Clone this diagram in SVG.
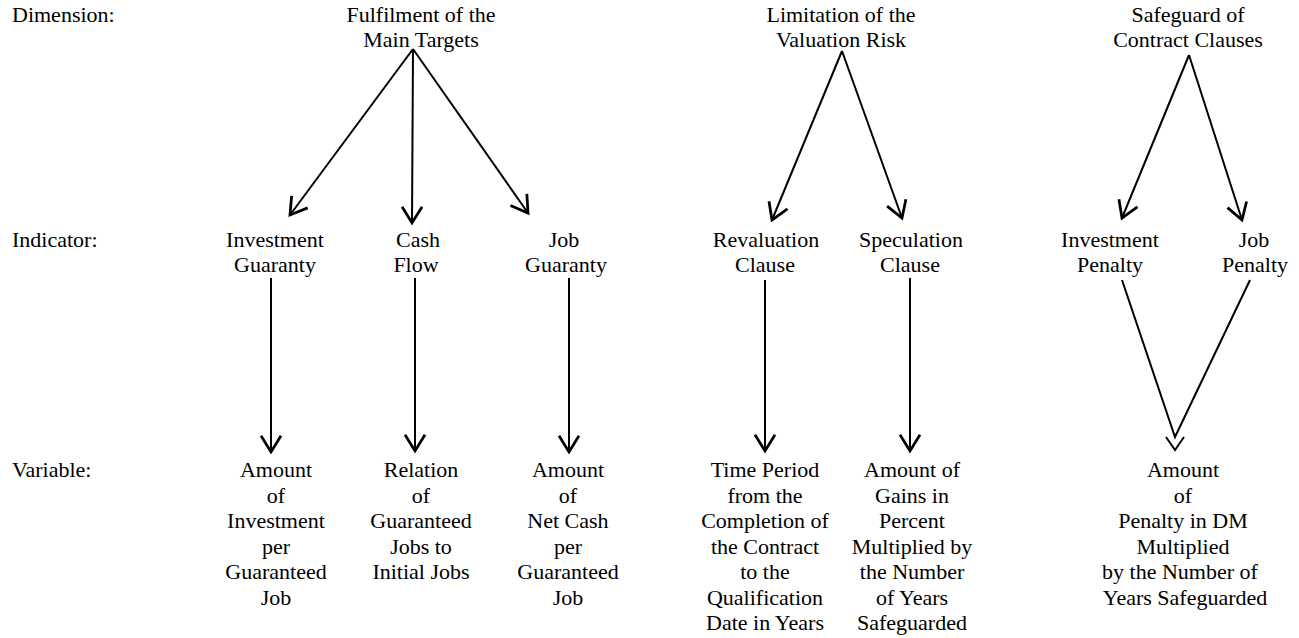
<svg xmlns="http://www.w3.org/2000/svg" width="1299" height="638" viewBox="0 0 1299 638">
<defs>
<style>
text{font-family:"Liberation Serif","Times New Roman",serif;font-size:22px;fill:#000}
.c{text-anchor:middle}
.ln{stroke:#000;stroke-width:2;fill:none}
.hd{stroke:#000;stroke-width:2;fill:none;stroke-linejoin:miter}
</style>
<marker id="ah" markerUnits="userSpaceOnUse" markerWidth="30" markerHeight="30" viewBox="-16 -12 20 24" refX="0" refY="0" orient="auto">
<path d="M-13,-8 L0,0 L-13,8" stroke="#000" stroke-width="2.2" fill="none"/>
</marker>
</defs>
<rect width="1299" height="638" fill="#fff"/>

<g id="row-labels">
<text x="12" y="22">Dimension:</text>
<text x="12" y="247">Indicator:</text>
<text x="12" y="477">Variable:</text>
</g>

<g id="dim-fulfilment"><text class="c" x="421" y="22"><tspan x="421">Fulfilment of the</tspan><tspan x="421" dy="25">Main Targets</tspan></text></g>
<g id="dim-limitation"><text class="c" x="841" y="22"><tspan x="841">Limitation of the</tspan><tspan x="841" dy="25">Valuation Risk</tspan></text></g>
<g id="dim-safeguard"><text class="c" x="1188" y="22"><tspan x="1188">Safeguard of</tspan><tspan x="1188" dy="25">Contract Clauses</tspan></text></g>

<g id="ind-investment-guaranty"><text class="c" y="247"><tspan x="275">Investment</tspan><tspan x="275" dy="25">Guaranty</tspan></text></g>
<g id="ind-cash-flow"><text class="c" y="247"><tspan x="418">Cash</tspan><tspan x="416" dy="25">Flow</tspan></text></g>
<g id="ind-job-guaranty"><text class="c" y="247"><tspan x="564">Job</tspan><tspan x="566" dy="25">Guaranty</tspan></text></g>
<g id="ind-revaluation"><text class="c" y="247"><tspan x="766">Revaluation</tspan><tspan x="765" dy="25">Clause</tspan></text></g>
<g id="ind-speculation"><text class="c" y="247"><tspan x="911">Speculation</tspan><tspan x="910" dy="25">Clause</tspan></text></g>
<g id="ind-investment-penalty"><text class="c" y="247"><tspan x="1110">Investment</tspan><tspan x="1110" dy="25">Penalty</tspan></text></g>
<g id="ind-job-penalty"><text class="c" y="247"><tspan x="1254">Job</tspan><tspan x="1255" dy="25">Penalty</tspan></text></g>

<g id="var-investment"><text class="c" y="477"><tspan x="276">Amount</tspan><tspan x="276" dy="25.5">of</tspan><tspan x="276" dy="25.5">Investment</tspan><tspan x="276" dy="25.5">per</tspan><tspan x="276" dy="25.5">Guaranteed</tspan><tspan x="276" dy="25.5">Job</tspan></text></g>
<g id="var-relation"><text class="c" y="477"><tspan x="421">Relation</tspan><tspan x="421" dy="25.5">of</tspan><tspan x="421" dy="25.5">Guaranteed</tspan><tspan x="421" dy="25.5">Jobs to</tspan><tspan x="421" dy="25.5">Initial Jobs</tspan></text></g>
<g id="var-netcash"><text class="c" y="477"><tspan x="568">Amount</tspan><tspan x="568" dy="25.5">of</tspan><tspan x="568" dy="25.5">Net Cash</tspan><tspan x="568" dy="25.5">per</tspan><tspan x="568" dy="25.5">Guaranteed</tspan><tspan x="568" dy="25.5">Job</tspan></text></g>
<g id="var-timeperiod"><text class="c" y="477"><tspan x="765">Time Period</tspan><tspan x="765" dy="25.5">from the</tspan><tspan x="765" dy="25.5">Completion of</tspan><tspan x="765" dy="25.5">the Contract</tspan><tspan x="765" dy="25.5">to the</tspan><tspan x="765" dy="25.5">Qualification</tspan><tspan x="765" dy="25.5">Date in Years</tspan></text></g>
<g id="var-gains"><text class="c" y="477"><tspan x="912">Amount of</tspan><tspan x="912" dy="25.5">Gains in</tspan><tspan x="912" dy="25.5">Percent</tspan><tspan x="912" dy="25.5">Multiplied by</tspan><tspan x="912" dy="25.5">the Number</tspan><tspan x="912" dy="25.5">of Years</tspan><tspan x="912" dy="25.5">Safeguarded</tspan></text></g>
<g id="var-penalty"><text class="c" y="477"><tspan x="1183">Amount</tspan><tspan x="1183" dy="25.5">of</tspan><tspan x="1183" dy="25.5">Penalty in DM</tspan><tspan x="1183" dy="25.5">Multiplied</tspan><tspan x="1180" dy="25.5">by the Number of</tspan><tspan x="1185" dy="25.5">Years Safeguarded</tspan></text></g>

<g id="connectors">
<line class="ln" x1="413" y1="49" x2="290" y2="215" marker-end="url(#ah)"/>
<line class="ln" x1="413" y1="49" x2="412" y2="223" marker-end="url(#ah)"/>
<line class="ln" x1="413" y1="49" x2="528" y2="213" marker-end="url(#ah)"/>
<line class="ln" x1="842" y1="51" x2="772" y2="220" marker-end="url(#ah)"/>
<line class="ln" x1="842" y1="51" x2="902" y2="218" marker-end="url(#ah)"/>
<line class="ln" x1="1189" y1="55" x2="1122" y2="218" marker-end="url(#ah)"/>
<line class="ln" x1="1189" y1="55" x2="1242" y2="220" marker-end="url(#ah)"/>
<line class="ln" x1="271" y1="278" x2="271" y2="452" marker-end="url(#ah)"/>
<line class="ln" x1="415" y1="278" x2="415" y2="451" marker-end="url(#ah)"/>
<line class="ln" x1="569" y1="278" x2="569" y2="452" marker-end="url(#ah)"/>
<line class="ln" x1="765" y1="280" x2="765" y2="451" marker-end="url(#ah)"/>
<line class="ln" x1="910" y1="278" x2="910" y2="451" marker-end="url(#ah)"/>
<path class="ln" d="M1122,280 L1175,437 L1250,280"/>
<path class="hd" d="M1166,437 L1175,450 L1184,437"/>
</g>
</svg>
